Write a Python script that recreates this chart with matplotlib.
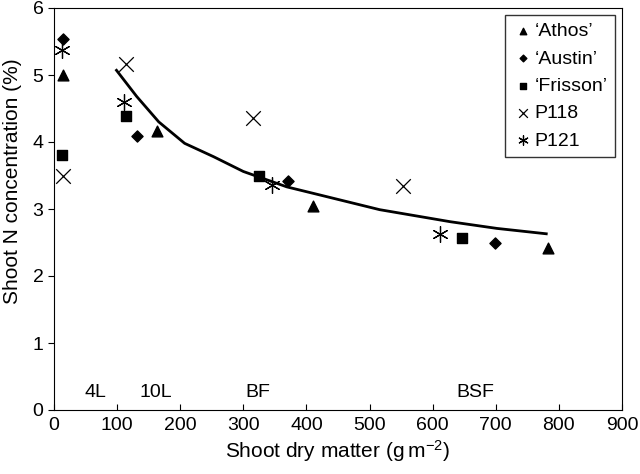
import matplotlib.pyplot as plt

# Data
athos_x = [15, 163, 411, 783]
athos_y = [5.0, 4.17, 3.05, 2.42]
austin_x = [15, 131, 371, 699]
austin_y = [5.53, 4.09, 3.42, 2.5]
frisson_x = [12, 114, 325, 646]
frisson_y = [3.81, 4.39, 3.49, 2.57]
p118_x = [14, 114, 316, 553]
p118_y = [3.5, 5.17, 4.36, 3.34]
p121_x = [13, 111, 346, 612]
p121_y = [5.37, 4.6, 3.36, 2.63]

# Dilution curve (traced)
curve_x = [99, 131, 166, 207, 253, 300, 369, 421, 516, 628, 702, 780]
curve_y = [5.07, 4.68, 4.3, 3.98, 3.78, 3.56, 3.33, 3.21, 2.99, 2.81, 2.71, 2.63]

stage_labels = ['4L', '10L', 'BF', 'BSF']
stage_x = [65, 162, 323, 667]

plt.rcParams['font.family'] = ['Liberation Sans', 'DejaVu Sans']
plt.rcParams['mathtext.fontset'] = 'custom'
plt.rcParams['mathtext.rm'] = 'Liberation Sans'
plt.rcParams['mathtext.default'] = 'regular'
fig = plt.figure(figsize=(6.4, 4.74), dpi=100)
ax = fig.add_axes([54 / 640, 64 / 474, 568 / 640, 402 / 474])

ax.plot(curve_x, curve_y, color='black', lw=2)
ax.scatter(athos_x, athos_y, marker='^', s=60, c='black', label="\u2018Athos\u2019", zorder=3)
ax.scatter(austin_x, austin_y, marker='D', s=32, c='black', label="\u2018Austin\u2019", zorder=3)
ax.scatter(frisson_x, frisson_y, marker='s', s=45, c='black', label="\u2018Frisson\u2019", zorder=3)
ax.scatter(p118_x, p118_y, marker='x', s=110, c='black', linewidths=0.9, label='P118', zorder=3)
ax.scatter(p121_x, p121_y, marker=(6, 2, 0), s=130, c='black', linewidths=0.9, label='P121', zorder=3)

for lab, xx in zip(stage_labels, stage_x):
    ax.text(xx, 0.14, lab, ha='center', va='bottom', fontsize=14)

ax.set_xlim(0, 900)
ax.set_ylim(0, 6)
ax.set_xticks(range(0, 901, 100))
ax.set_yticks(range(0, 7))
ax.tick_params(axis='x', direction='in', labelsize=14, length=4, pad=5)
ax.tick_params(axis='y', direction='out', labelsize=14, length=4)
ax.set_xlabel('Shoot dry matter (g\u2009m$^{\u22122}$)', fontsize=15, labelpad=3)
ax.set_ylabel('Shoot N concentration (%)', fontsize=15)
ax.yaxis.set_label_coords(-0.057, 0.57)

leg = ax.legend(loc='upper right', fontsize=14, frameon=True, fancybox=False,
                edgecolor='black', handletextpad=0.1, borderaxespad=0.35,
                labelspacing=0.5, handlelength=1.0, scatterpoints=1,
                markerscale=0.6, borderpad=0.4)
leg.get_frame().set_linewidth(1)

fig.savefig('out.png', dpi=100)
